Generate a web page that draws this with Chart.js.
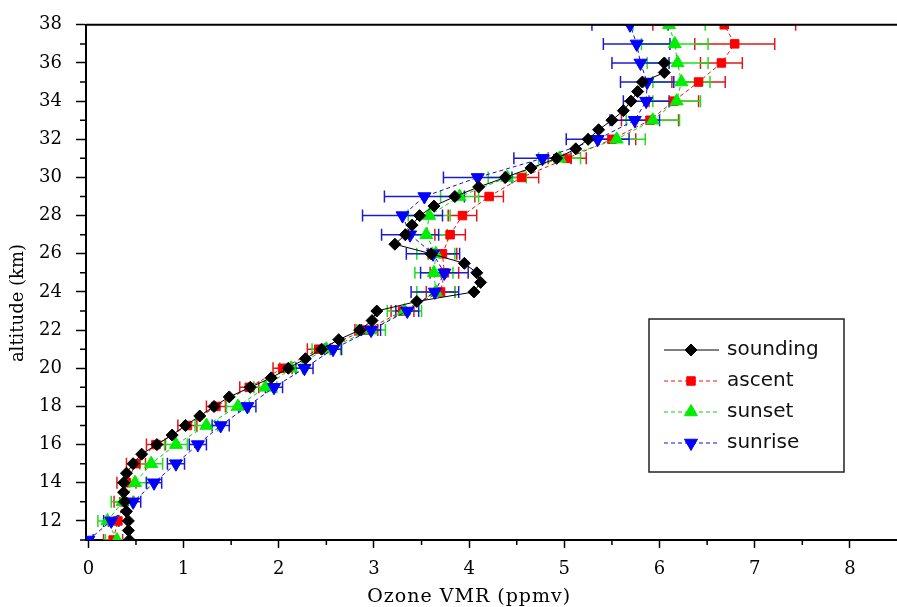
<!DOCTYPE html>
<html>
<head>
<meta charset="utf-8">
<script src="https://cdn.jsdelivr.net/npm/chart.js@4.4.1/dist/chart.umd.min.js"></script>
<style>
    html, body { margin: 0; padding: 0; background: #ffffff; overflow: hidden; }
    #wrap { position: relative; width: 906px; height: 607px; }
</style>
</head>
<body>
<div id="wrap"><canvas id="chart"></canvas></div>
<script>
// altitude grid (km) of the retrieved profiles
const retrievalAlt = [11, 12, 13, 14, 15, 16, 17, 18, 19, 20, 21, 22, 23, 24,
    25, 26, 27, 28, 29, 30, 31, 32, 33, 34, 35, 36, 37, 38];

const ascentVmr = [0.26, 0.31, 0.37, 0.40, 0.50, 0.71, 1.04, 1.34, 1.69, 2.04, 2.42, 2.92, 3.30, 3.70,
    3.74, 3.72, 3.80, 3.93, 4.21, 4.55, 5.03, 5.50, 5.90, 6.15, 6.41, 6.65, 6.79, 6.68];
const ascentErr = [0.10, 0.10, 0.10, 0.10, 0.10, 0.10, 0.10, 0.10, 0.10, 0.10, 0.12, 0.12, 0.12, 0.15,
    0.15, 0.15, 0.16, 0.15, 0.15, 0.18, 0.20, 0.25, 0.30, 0.26, 0.28, 0.22, 0.42, 0.75];

const sunsetVmr = [0.30, 0.20, 0.36, 0.49, 0.66, 0.92, 1.24, 1.57, 1.86, 2.13, 2.50, 2.97, 3.32, 3.65,
    3.63, 3.65, 3.55, 3.58, 3.90, 4.40, 4.95, 5.55, 5.93, 6.18, 6.23, 6.19, 6.16, 6.10];
const sunsetErr = [0.12, 0.10, 0.12, 0.12, 0.12, 0.12, 0.12, 0.12, 0.12, 0.12, 0.15, 0.15, 0.18, 0.20,
    0.20, 0.20, 0.22, 0.22, 0.20, 0.20, 0.22, 0.30, 0.28, 0.25, 0.30, 0.32, 0.35, 0.38];

const sunriseVmr = [0.00, 0.24, 0.47, 0.69, 0.92, 1.15, 1.39, 1.67, 1.95, 2.27, 2.57, 2.97, 3.35, 3.64,
    3.74, 3.62, 3.38, 3.30, 3.53, 4.09, 4.77, 5.35, 5.74, 5.86, 5.87, 5.80, 5.76, 5.69];
const sunriseErr = [0.05, 0.08, 0.08, 0.08, 0.09, 0.09, 0.09, 0.09, 0.09, 0.09, 0.09, 0.10, 0.12, 0.25,
    0.25, 0.28, 0.30, 0.42, 0.42, 0.36, 0.30, 0.33, 0.26, 0.24, 0.28, 0.30, 0.35, 0.40];

// balloon sounding, finer altitude steps
const soundingAlt = [11, 11.5, 12, 12.5, 13, 13.5, 14, 14.5, 15, 15.5, 16, 16.5, 17, 17.5,
    18, 18.5, 19, 19.5, 20, 20.5, 21, 21.5, 22, 22.5, 23, 23.5, 24, 24.5,
    25, 25.5, 26, 26.5, 27, 27.5, 28, 28.5, 29, 29.5, 30, 30.5, 31, 31.5,
    32, 32.5, 33, 33.5, 34, 34.5, 35, 35.5, 36];
const soundingVmr = [0.43, 0.42, 0.42, 0.40, 0.38, 0.37, 0.37, 0.40, 0.47, 0.56, 0.72, 0.88, 1.02, 1.17,
    1.32, 1.48, 1.70, 1.92, 2.10, 2.28, 2.45, 2.63, 2.85, 2.98, 3.03, 3.45, 4.05, 4.12,
    4.08, 3.95, 3.60, 3.22, 3.33, 3.40, 3.48, 3.63, 3.85, 4.10, 4.38, 4.65, 4.92, 5.12,
    5.25, 5.36, 5.50, 5.62, 5.70, 5.77, 5.82, 6.05, 6.05];

const xTicks = [0, 1, 2, 3, 4, 5, 6, 7, 8];
const xMinor = [0.5, 1.5, 2.5, 3.5, 4.5, 5.5, 6.5, 7.5];
const yTicks = [12, 14, 16, 18, 20, 22, 24, 26, 28, 30, 32, 34, 36, 38];
const yMinor = [11, 13, 15, 17, 19, 21, 23, 25, 27, 29, 31, 33, 35, 37];

function toPoints(xs, ys) {
    return xs.map(function (v, i) { return { x: v, y: ys[i] }; });
}

const errorBars = {
    id: "errorBars",
    beforeDatasetsDraw(chart) {
        const ctx = chart.ctx;
        const area = chart.chartArea;
        const xs = chart.scales.x;
        const ys = chart.scales.y;
        ctx.save();
        ctx.beginPath();
        ctx.rect(area.left, area.top, area.right - area.left, area.bottom - area.top);
        ctx.clip();
        ctx.lineWidth = 1.5;
        chart.data.datasets.forEach(function (ds) {
            if (!ds.errors) return;
            ctx.strokeStyle = ds.errorColor;
            ds.data.forEach(function (p, i) {
                const y = ys.getPixelForValue(p.y);
                const x1 = xs.getPixelForValue(p.x - ds.errors[i]);
                const x2 = xs.getPixelForValue(p.x + ds.errors[i]);
                ctx.beginPath();
                ctx.moveTo(x1, y);
                ctx.lineTo(x2, y);
                ctx.moveTo(x1, y - 6);
                ctx.lineTo(x1, y + 6);
                ctx.moveTo(x2, y - 6);
                ctx.lineTo(x2, y + 6);
                ctx.stroke();
            });
        });
        ctx.restore();
    }
};

const frameAndLegend = {
    id: "frameAndLegend",
    afterDraw(chart) {
        const ctx = chart.ctx;
        const area = chart.chartArea;
        const xs = chart.scales.x;
        const ys = chart.scales.y;
        ctx.save();

        // top frame line
        ctx.strokeStyle = "#000000";
        ctx.lineWidth = 2;
        ctx.beginPath();
        ctx.moveTo(area.left, area.top);
        ctx.lineTo(area.right, area.top);
        ctx.stroke();

        // minor ticks
        ctx.lineWidth = 1.5;
        ctx.beginPath();
        yMinor.forEach(function (v) {
            const y = ys.getPixelForValue(v);
            ctx.moveTo(area.left - 6, y);
            ctx.lineTo(area.left, y);
        });
        xMinor.forEach(function (v) {
            const x = xs.getPixelForValue(v);
            ctx.moveTo(x, area.bottom);
            ctx.lineTo(x, area.bottom + 5);
        });
        ctx.stroke();

        // axis titles
        ctx.fillStyle = "#000000";
        ctx.font = "19px 'DejaVu Serif'";
        ctx.textAlign = "center";
        ctx.textBaseline = "middle";
        ctx.letterSpacing = "1px";
        ctx.fillText("Ozone VMR (ppmv)", xs.getPixelForValue(4), 597);
        ctx.letterSpacing = "0px";
        ctx.save();
        ctx.translate(18, 303);
        ctx.rotate(-Math.PI / 2);
        ctx.font = "18px 'DejaVu Serif'";
        ctx.fillText("altitude (km)", 0, 0);
        ctx.restore();

        // legend box
        const bx = 649, by = 319, bw = 195, bh = 153;
        ctx.fillStyle = "#ffffff";
        ctx.fillRect(bx, by, bw, bh);
        ctx.strokeStyle = "#222222";
        ctx.lineWidth = 1.5;
        ctx.strokeRect(bx, by, bw, bh);

        ctx.font = "20px 'DejaVu Sans'";
        ctx.textAlign = "left";
        chart.data.datasets.forEach(function (ds, i) {
            const y = 350 + i * 31;
            ctx.strokeStyle = ds.borderColor;
            ctx.lineWidth = 1;
            ctx.setLineDash(ds.borderDash || []);
            ctx.beginPath();
            ctx.moveTo(664, y);
            ctx.lineTo(719, y);
            ctx.stroke();
            ctx.setLineDash([]);
            ctx.fillStyle = ds.pointBackgroundColor;
            ctx.strokeStyle = ds.pointBorderColor;
            Chart.helpers.drawPoint(ctx, {
                pointStyle: ds.pointStyle,
                radius: ds.pointRadius,
                rotation: ds.rotation || 0,
                borderWidth: 1
            }, 691, y);
            ctx.fillStyle = "#111111";
            ctx.fillText(ds.label, 727, y);
        });

        ctx.restore();
    }
};

document.addEventListener("DOMContentLoaded", function () {

    Chart.defaults.font.family = "'DejaVu Serif'";
    Chart.defaults.color = "#000000";

    const ctx = document.getElementById("chart");

    new Chart(ctx, {
        type: "scatter",
        data: {
            datasets: [{
                label: "sounding",
                data: toPoints(soundingVmr, soundingAlt),
                showLine: true,
                borderColor: "#000000",
                borderWidth: 1,
                pointStyle: "rectRot",
                pointRadius: 6,
                pointBackgroundColor: "#000000",
                pointBorderColor: "#000000",
                clip: 0,
                order: 0
            }, {
                label: "ascent",
                data: toPoints(ascentVmr, retrievalAlt),
                errors: ascentErr,
                errorColor: "#e01818",
                showLine: true,
                borderColor: "#ee1111",
                borderWidth: 1,
                borderDash: [4, 3],
                pointStyle: "rect",
                pointRadius: 6,
                pointBackgroundColor: "#ff0000",
                pointBorderColor: "#ff0000",
                clip: 0,
                order: 3
            }, {
                label: "sunset",
                data: toPoints(sunsetVmr, retrievalAlt),
                errors: sunsetErr,
                errorColor: "#22dd22",
                showLine: true,
                borderColor: "#11cc11",
                borderWidth: 1,
                borderDash: [4, 3],
                pointStyle: "triangle",
                pointRadius: 7.5,
                pointBackgroundColor: "#00ee00",
                pointBorderColor: "#00ee00",
                clip: 0,
                order: 2
            }, {
                label: "sunrise",
                data: toPoints(sunriseVmr, retrievalAlt),
                errors: sunriseErr,
                errorColor: "#1c1ccc",
                showLine: true,
                borderColor: "#1111cc",
                borderWidth: 1,
                borderDash: [4, 3],
                pointStyle: "triangle",
                rotation: 180,
                pointRadius: 7.5,
                pointBackgroundColor: "#0000ff",
                pointBorderColor: "#0000ff",
                clip: 0,
                order: 1
            }]
        },
        options: {
            responsive: true,
            maintainAspectRatio: false,
            animation: false,
            layout: {
                padding: { left: 0, top: 23, right: 1, bottom: 0 }
            },
            scales: {
                x: {
                    type: "linear",
                    min: -0.025,
                    max: 8.5,
                    afterBuildTicks: function (scale) {
                        scale.ticks = xTicks.map(function (v) { return { value: v }; });
                    },
                    afterFit: function (scale) {
                        scale.height = 67;
                    },
                    grid: {
                        drawOnChartArea: false,
                        drawTicks: true,
                        tickLength: 8,
                        tickWidth: 1.5,
                        tickColor: "#000000"
                    },
                    border: { display: true, color: "#000000", width: 2 },
                    ticks: {
                        padding: 11,
                        maxRotation: 0,
                        font: { size: 18 },
                        color: "#000000"
                    }
                },
                y: {
                    type: "linear",
                    min: 11,
                    max: 38,
                    afterBuildTicks: function (scale) {
                        scale.ticks = yTicks.map(function (v) { return { value: v }; });
                    },
                    afterFit: function (scale) {
                        scale.width = 86;
                    },
                    grid: {
                        drawOnChartArea: false,
                        drawTicks: true,
                        tickLength: 10,
                        tickWidth: 1.5,
                        tickColor: "#000000"
                    },
                    border: { display: true, color: "#000000", width: 2 },
                    ticks: {
                        padding: 14,
                        font: { size: 18 },
                        color: "#000000"
                    }
                }
            },
            plugins: {
                legend: { display: false },
                tooltip: { enabled: false }
            }
        },
        plugins: [errorBars, frameAndLegend]
    });

});
</script>
</body>
</html>
